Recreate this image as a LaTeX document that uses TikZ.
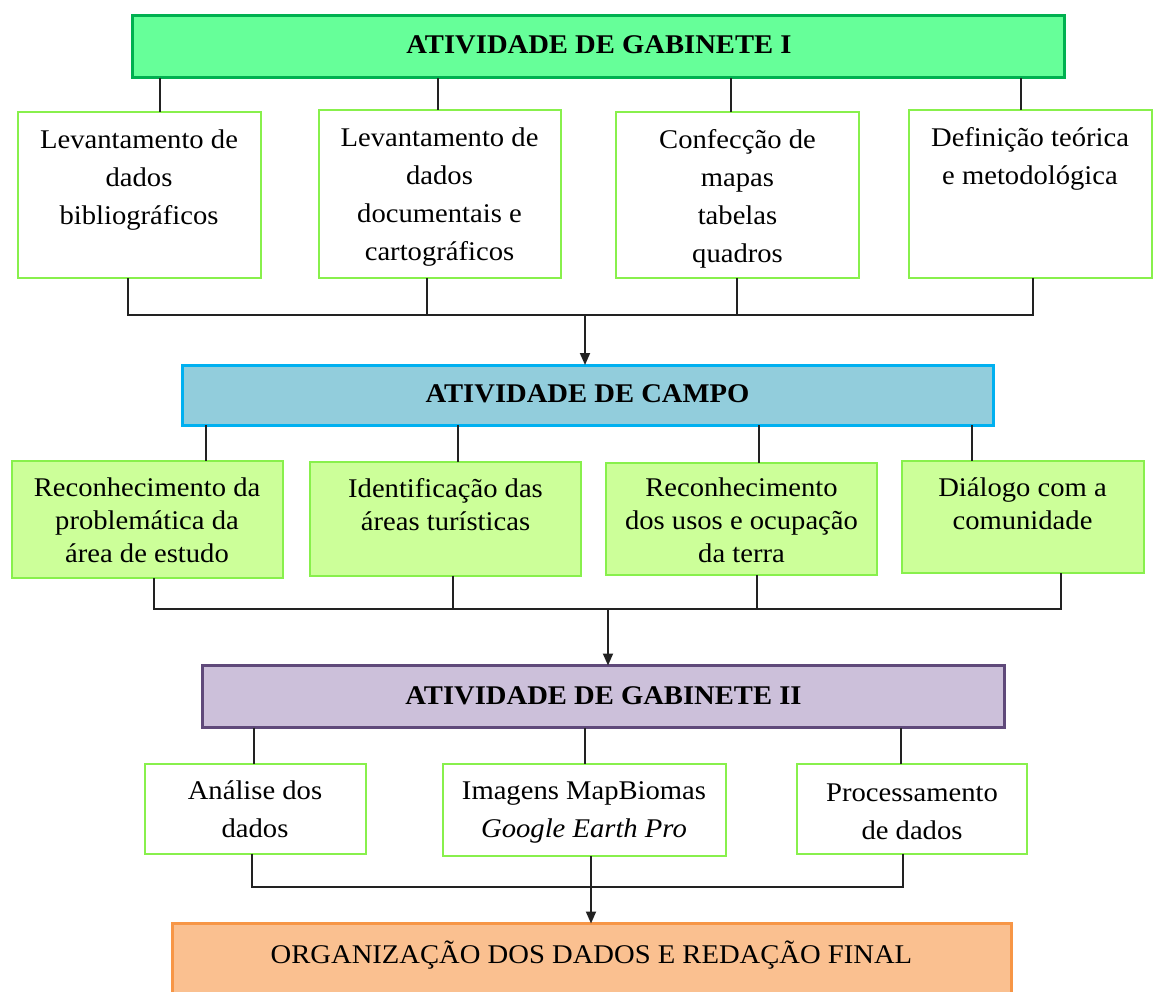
\documentclass[tikz,border=0pt]{standalone}
\usepackage{fontspec}
\setmainfont{Liberation Serif}[FakeStretch=1.06]
\usetikzlibrary{arrows.meta}
\definecolor{gonefill}{HTML}{66FF99}
\definecolor{goneline}{HTML}{00B050}
\definecolor{kidline}{HTML}{88F04C}
\definecolor{campofill}{HTML}{92CDDC}
\definecolor{campoline}{HTML}{00B0F0}
\definecolor{rowtwofill}{HTML}{CCFF99}
\definecolor{gtwofill}{HTML}{CCC0DA}
\definecolor{gtwoline}{HTML}{5F497A}
\definecolor{finfill}{HTML}{FAC090}
\definecolor{finline}{HTML}{F79646}
\definecolor{connc}{HTML}{222222}
\newcommand{\tx}[1]{\begin{tabular}[t]{@{}c@{}}#1\end{tabular}}
\begin{document}
\begin{tikzpicture}[x=1pt,y=-1pt,
  every node/.style={inner sep=0pt,outer sep=0pt},
  hbox/.style={draw,line width=3pt,anchor=north west},
  kbox/.style={draw=kidline,line width=2pt,fill=white,anchor=north west},
  kboxg/.style={draw=kidline,line width=2pt,fill=rowtwofill,anchor=north west},
  htxt/.style={font=\fontsize{27}{38}\selectfont\bfseries,anchor=center},
  ktxt/.style={font=\fontsize{27}{38}\selectfont,anchor=base},
  ktxtb/.style={font=\fontsize{27}{33}\selectfont,anchor=base},
  conn/.style={draw=connc,line width=1.8pt},
  arr/.style={conn,-{Triangle[length=12pt,width=10pt]}}
]
\useasboundingbox (0,0) rectangle (1162,992);
\fill[white] (0,0) rectangle (1162,992);

% ---------- Level 1 ----------
\node[hbox,draw=goneline,fill=gonefill,minimum width=932pt,minimum height=62pt] (h1) at (132.5,16) {};
\node[htxt] (h1t) at (599,45) {ATIVIDADE DE GABINETE I};

\node[kbox,minimum width=243pt,minimum height=166pt] (b1) at (17.5,112) {};
\node[kbox,minimum width=242pt,minimum height=168pt] (b2) at (318.5,110) {};
\node[kbox,minimum width=243pt,minimum height=166pt] (b3) at (616,112) {};
\node[kbox,minimum width=243pt,minimum height=168pt] (b4) at (908.5,110) {};

\node[ktxt] (t1) at (139,149) {\tx{Levantamento de\\dados\\bibliográficos}};
\node[ktxt] (t2) at (439.5,147) {\tx{Levantamento de\\dados\\documentais e\\cartográficos}};
\node[ktxt] (t3) at (737.5,149) {\tx{Confecção de\\mapas\\tabelas\\quadros}};
\node[ktxt] (t4) at (1030,147) {\tx{Definição teórica\\e metodológica}};

\draw[conn] (h1.south -| 160,0) -- (b1.north -| 160,0);
\draw[conn] (h1.south -| 438,0) -- (b2.north -| 438,0);
\draw[conn] (h1.south -| 731,0) -- (b3.north -| 731,0);
\draw[conn] (h1.south -| 1021,0) -- (b4.north -| 1021,0);

\coordinate (j1) at (585,315);
\draw[conn] (b1.south -| 128,0) |- (j1);
\draw[conn] (b4.south -| 1033,0) |- (j1);
\draw[conn] (b2.south -| 427,0) -- (j1 -| 427,0);
\draw[conn] (b3.south -| 737,0) -- (j1 -| 737,0);

% ---------- Level 2 ----------
\node[hbox,draw=campoline,fill=campofill,minimum width=811pt,minimum height=60pt] (campo) at (182,365) {};
\node[htxt] (campot) at (587.5,394) {ATIVIDADE DE CAMPO};
\draw[arr] (j1) -- (campo.north -| j1);

\node[kboxg,minimum width=271pt,minimum height=117pt] (c1) at (11.5,461) {};
\node[kboxg,minimum width=271pt,minimum height=113.5pt] (c2) at (310,462) {};
\node[kboxg,minimum width=271pt,minimum height=112.5pt] (c3) at (606,462.5) {};
\node[kboxg,minimum width=241.5pt,minimum height=112.5pt] (c4) at (902,460.5) {};

\node[ktxtb] (u1) at (147,496) {\tx{Reconhecimento da\\problemática da\\área de estudo}};
\node[ktxtb] (u2) at (445.5,497) {\tx{Identificação das\\áreas turísticas}};
\node[ktxtb] (u3) at (741.5,496) {\tx{Reconhecimento\\dos usos e ocupação\\da terra}};
\node[ktxtb] (u4) at (1022.5,496) {\tx{Diálogo com a\\comunidade}};

\draw[conn] (campo.south -| 206,0) -- (c1.north -| 206,0);
\draw[conn] (campo.south -| 458,0) -- (c2.north -| 458,0);
\draw[conn] (campo.south -| 759,0) -- (c3.north -| 759,0);
\draw[conn] (campo.south -| 972,0) -- (c4.north -| 972,0);

\coordinate (j2) at (608,609);
\draw[conn] (c1.south -| 154,0) |- (j2);
\draw[conn] (c4.south -| 1061,0) |- (j2);
\draw[conn] (c2.south -| 453,0) -- (j2 -| 453,0);
\draw[conn] (c3.south -| 757,0) -- (j2 -| 757,0);

% ---------- Level 3 ----------
\node[hbox,draw=gtwoline,fill=gtwofill,minimum width=802pt,minimum height=62pt] (g2) at (202.5,665.5) {};
\node[htxt] (g2t) at (603.5,696) {ATIVIDADE DE GABINETE II};
\draw[arr] (j2) -- (g2.north -| j2);

\node[kbox,minimum width=221.5pt,minimum height=90pt] (d1) at (144.5,763.5) {};
\node[kbox,minimum width=283pt,minimum height=92.5pt] (d2) at (442.5,763.5) {};
\node[kbox,minimum width=229.5pt,minimum height=90pt] (d3) at (797,763.5) {};

\node[ktxt] (v1) at (255,799) {\tx{Análise dos\\dados}};
\node[ktxt] (v2) at (584,799) {\tx{Imagens MapBiomas\\\textit{Google Earth Pro}}};
\node[ktxt] (v3) at (912,801) {\tx{Processamento\\de dados}};

\draw[conn] (g2.south -| 254,0) -- (d1.north -| 254,0);
\draw[conn] (g2.south -| 585,0) -- (d2.north -| 585,0);
\draw[conn] (g2.south -| 901,0) -- (d3.north -| 901,0);

\coordinate (j3) at (591,887);
\draw[conn] (d1.south -| 252,0) |- (j3);
\draw[conn] (d3.south -| 903,0) |- (j3);

% ---------- Final ----------
\node[hbox,draw=finline,fill=finfill,minimum width=839pt,minimum height=80pt] (fin) at (172,923.5) {};
\node[ktxt] (fint) at (591.5,963) {ORGANIZAÇÃO DOS DADOS E REDAÇÃO FINAL};
\draw[arr] (d2.south -| j3) -- (fin.north -| j3);
\end{tikzpicture}
\end{document}
